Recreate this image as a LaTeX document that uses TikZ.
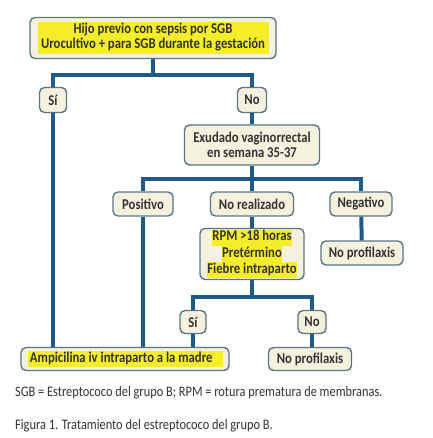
\documentclass[tikz,border=0pt]{standalone}
\usepackage{fontspec}
\setmainfont{Carlito}[FakeStretch=0.85]
\usepackage{tikz}
\usetikzlibrary{positioning, calc}
\usepackage{xcolor}
\definecolor{flowblue}{HTML}{1E5A85}
\definecolor{boxedge}{HTML}{5A7486}
\definecolor{boxfill}{HTML}{F4F2DE}
\definecolor{marker}{HTML}{F5EC2A}
\definecolor{inktext}{HTML}{333333}
\newcommand{\hl}[1]{{\setlength{\fboxsep}{0.5pt}\colorbox{marker}{\strut #1}}}

\begin{document}
\begin{tikzpicture}[x=1bp, y=-1bp,
    stage/.style={draw=boxedge, line width=1.4bp, fill=boxfill,
                  rounded corners=5bp, inner sep=1bp, align=center,
                  text=inktext, font=\fontsize{15}{14.5}\selectfont\bfseries},
    link/.style={draw=flowblue, line width=4bp},
    note/.style={anchor=west, inner sep=0pt, text=inktext,
                 font=\fontsize{14.6}{16}\selectfont}
  ]
    \useasboundingbox (0,0) rectangle (432,438);
    % first question
    \node[stage, minimum width=246bp, minimum height=41bp] (prev) at (153, 38)
      {\hl{\makebox[230bp]{Hijo previo con sepsis por SGB}}\\[-1pt]
       \hl{\makebox[230bp]{Urocultivo + para SGB durante la gestación}}};
    \node[stage, minimum width=27bp, minimum height=25bp] (yesA) at (53, 100) {Sí};
    \node[stage, minimum width=29bp, minimum height=25bp] (noA) at (252, 100) {No};
    \node[stage, minimum width=135bp, minimum height=40bp] (swab) at (252, 145)
      {Exudado vaginorrectal\\ en semana 35-37};
    % swab results
    \node[stage, minimum width=60bp, minimum height=24bp] (pos) at (143, 204) {Positivo};
    \node[stage, minimum width=83bp, minimum height=24bp] (notdone) at (252, 204) {No realizado};
    \node[stage, minimum width=62bp, minimum height=24bp] (neg) at (361, 204) {Negativo};
    \node[stage, minimum width=104bp, minimum height=51bp] (risk) at (252, 254)
      {\hl{RPM >18 horas}\\[-0.5pt] \hl{Pretérmino}\\[-0.5pt] \hl{Fiebre intraparto}};
    \node[stage, minimum width=82bp, minimum height=24bp] (noprofA) at (362, 253) {No profilaxis};
    % risk factors
    \node[stage, minimum width=26bp, minimum height=23bp] (yesB) at (193, 322) {Sí};
    \node[stage, minimum width=28bp, minimum height=23bp] (noB) at (312, 322) {No};
    \node[stage, minimum width=208bp, minimum height=23bp] (ampi) at (125, 359)
      {\hl{\makebox[194bp][l]{\hspace{2bp}Ampicilina iv intraparto a la madre}}};
    \node[stage, minimum width=83bp, minimum height=23bp] (noprofB) at (310, 359) {No profilaxis};
    % connectors
    \coordinate (forkA) at (153, 75);
    \coordinate (forkB) at (252, 179);
    \coordinate (forkC) at (252, 297);
    \draw[link] (prev) -- (forkA);
    \draw[link] (forkA) -| (yesA);
    \draw[link] (forkA) -| (noA);
    \draw[link] (noA) -- (swab);
    \draw[link] (swab) -- (forkB);
    \draw[link] (forkB) -| (pos);
    \draw[link] (forkB) -- (notdone);
    \draw[link] (forkB) -| (neg);
    \draw[link] (notdone) -- (risk);
    \draw[link] (neg) -- (noprofA);
    \draw[link] (risk) -- (forkC);
    \draw[link] (forkC) -| (yesB);
    \draw[link] (forkC) -| (noB);
    \draw[link] (yesA) -- (yesA |- ampi.north);
    \draw[link] (pos) -- (pos |- ampi.north);
    \draw[link] (yesB) -- (yesB |- ampi.north);
    \draw[link] (noB) -- (noB |- noprofB.north);
    % captions
    \node[note] (legend) at (15, 393)
      {SGB = Estreptococo del grupo B; RPM = rotura prematura de membranas.};
    \node[note, below=33bp of legend.west, anchor=west] (title)
      {Figura 1. Tratamiento del estreptococo del grupo B.};
  \end{tikzpicture}
\end{document}
